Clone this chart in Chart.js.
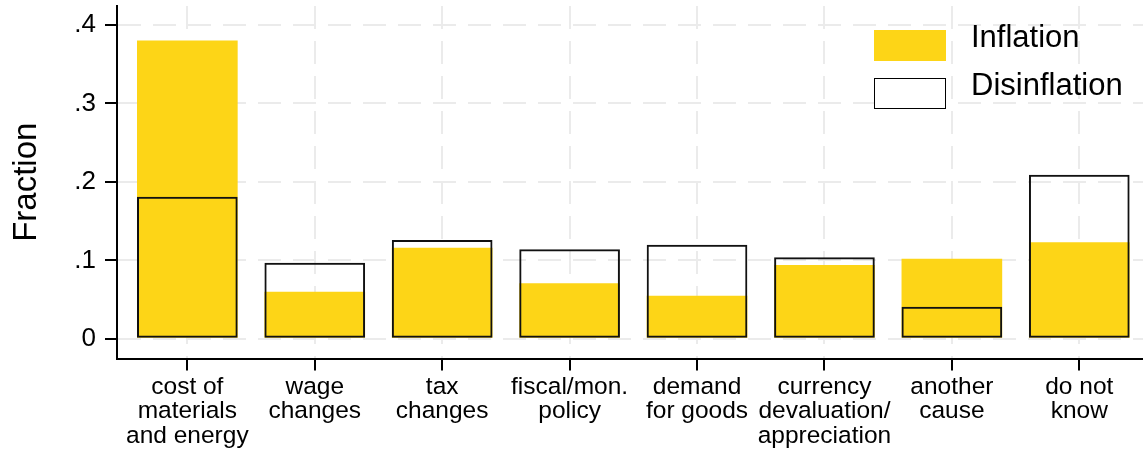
<!DOCTYPE html>
<html>
<head>
<meta charset="utf-8">
<script src="https://cdn.jsdelivr.net/npm/chart.js@4.4.1/dist/chart.umd.min.js"></script>
<style>
    body { margin: 0; background: #fff; }
    #wrap { position: relative; width: 1143px; height: 455px; }
    .key { position: absolute; box-sizing: border-box; }
    .key-label { position: absolute; font-family: "Liberation Sans", Arial, sans-serif; font-size: 31px; line-height: 31px; color: #000; white-space: nowrap; }
</style>
</head>
<body>
<div id="wrap">
    <canvas id="myChart" width="1143" height="455"></canvas>
    <div class="key" style="left:874px; top:30px; width:72px; height:31px; background:#fdd517;"></div>
    <div class="key-label" style="left:971px; top:21px;">Inflation</div>
    <div class="key" style="left:874px; top:78px; width:72px; height:31px; background:#fff; border:1.5px solid #000;"></div>
    <div class="key-label" style="left:971px; top:69px;">Disinflation</div>
</div>
<script>
const categories = [
    ['cost of', 'materials', 'and energy'],
    ['wage', 'changes'],
    ['tax', 'changes'],
    ['fiscal/mon.', 'policy'],
    ['demand', 'for goods'],
    ['currency', 'devaluation/', 'appreciation'],
    ['another', 'cause'],
    ['do not', 'know']
];
const inflation = [0.380, 0.060, 0.116, 0.071, 0.055, 0.094, 0.102, 0.123];
const disinflation = [0.181, 0.097, 0.126, 0.114, 0.120, 0.104, 0.041, 0.209];
const yTicks = [0, 0.1, 0.2, 0.3, 0.4];
const yTickLabels = ['0', '.1', '.2', '.3', '.4'];

const fontFamily = '"Liberation Sans", Arial, sans-serif';
const gridStyle = {color: '#ebebeb', lineWidth: 2, tickColor: '#000', tickWidth: 2, tickLength: 12, offset: false};
const borderStyle = {color: '#000', width: 2, dash: [23, 12]};

new Chart('myChart', {
    type: 'bar',
    data: {
        datasets: [{
            label: 'Inflation',
            data: inflation.map((v, i) => ({x: i + 1, y: v})),
            backgroundColor: '#fdd517',
            borderWidth: 0,
            order: 2
        }, {
            label: 'Disinflation',
            data: disinflation.map((v, i) => ({x: i + 1, y: v})),
            backgroundColor: 'rgba(0,0,0,0)',
            borderColor: '#111',
            borderWidth: 2,
            borderSkipped: false,
            order: 1
        }]
    },
    options: {
        responsive: false,
        animation: false,
        layout: {padding: {top: 6, right: 0, bottom: 0, left: 0}},
        datasets: {bar: {grouped: false, categoryPercentage: 1, barPercentage: 0.79}},
        plugins: {legend: {display: false}, tooltip: {enabled: false}},
        scales: {
            x: {
                type: 'linear',
                offset: false,
                min: 0.448,
                max: 8.5,
                afterBuildTicks: s => { s.ticks = categories.map((c, i) => ({value: i + 1})); },
                afterFit: s => { s.height = 96.5; s.paddingLeft = 0; s.paddingRight = 0; },
                ticks: {
                    callback: v => categories[v - 1],
                    color: '#000',
                    font: {family: fontFamily, size: 24.5, lineHeight: 1},
                    padding: 4,
                    maxRotation: 0,
                    autoSkip: false
                },
                grid: gridStyle,
                border: borderStyle
            },
            y: {
                min: -0.025,
                max: 0.424,
                afterBuildTicks: s => { s.ticks = yTicks.map(v => ({value: v})); },
                afterFit: s => { s.width = 117; s.paddingTop = 0; s.paddingBottom = 0; },
                ticks: {
                    callback: v => yTickLabels[yTicks.indexOf(v)],
                    color: '#000',
                    font: {family: fontFamily, size: 26},
                    padding: 9
                },
                grid: gridStyle,
                border: borderStyle,
                title: {
                    display: true,
                    text: 'Fraction',
                    color: '#000',
                    font: {family: fontFamily, size: 33, lineHeight: 1},
                    padding: {top: 10, bottom: 0}
                }
            }
        }
    }
});
</script>
</body>
</html>
